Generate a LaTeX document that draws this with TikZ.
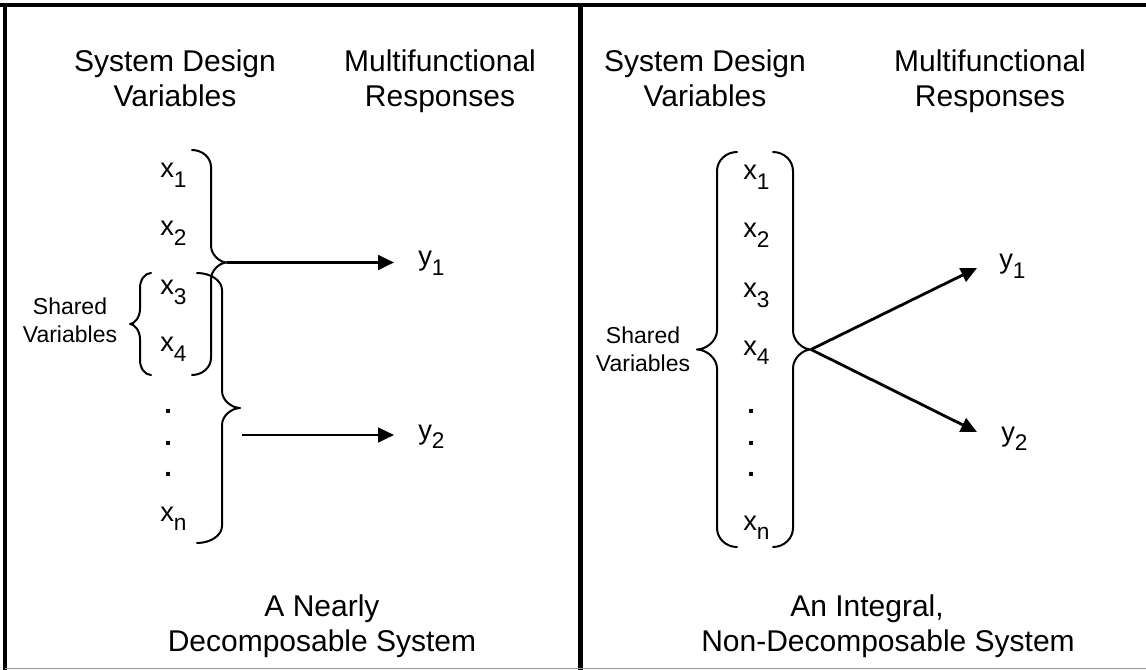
\documentclass[tikz,border=0pt]{standalone}
\usepackage{fontspec}
\setmainfont{Liberation Sans}
\usetikzlibrary{arrows.meta,calc}

% variable with a lowered index
\newcommand\vsub[2]{#1\raisebox{-7pt}{\fontsize{17}{17}\selectfont #2}}

% curly brace: #1 end x, #2 stem x, #3 tip x, #4 top y, #5 bottom y, #6 hook size, #7 tip name
\newcommand\curlybrace[7]{%
  \pgfmathsetmacro\bmid{(#4+#5)/2}%
  \pgfmathsetmacro\hka{#1+0.55*(#2-#1)}%
  \pgfmathsetmacro\hkb{#2+0.55*(#3-#2)}%
  \draw[bracestroke] (#1,#4)
    .. controls (\hka,#4) and (#2,{#4+0.45*#6}) .. (#2,{#4+#6})
    -- (#2,{\bmid-#6})
    .. controls (#2,{\bmid-0.45*#6}) and (\hkb,\bmid) .. (#3,\bmid)
    .. controls (\hkb,\bmid) and (#2,{\bmid+0.45*#6}) .. (#2,{\bmid+#6})
    -- (#2,{#5-#6})
    .. controls (#2,{#5-0.45*#6}) and (\hka,#5) .. (#1,#5);
  \coordinate (#7) at (#3,\bmid);
}

\begin{document}
\begin{tikzpicture}[x=0.75pt,y=-0.75pt,
  txt/.style={font=\fontsize{22.5}{26.25}\selectfont, inner sep=0pt, align=center},
  smalltxt/.style={font=\fontsize{17.25}{21}\selectfont, inner sep=0pt, align=center},
  var/.style={font=\fontsize{20.5}{24}\selectfont, inner sep=0pt, anchor=base west},
  bracestroke/.style={line width=1.5pt, line join=round, line cap=round},
  arr/.style={line width=2.1pt, -{Triangle[length=12pt,width=11pt]}},
  panelrule/.style={line width=3pt}]

\useasboundingbox (0,0) rectangle (1146,670);

% panel frame
\draw[panelrule] (0,5) -- (1146,5);
\draw[panelrule] (5,5) -- (5,670);
\draw[line width=3.4pt] (580.5,5) -- (580.5,670);
\draw[line width=1pt, black!40] (5,668.5) -- (1146,668.5);

% ---------- left panel ----------
\node[txt, anchor=base] (sdvL) at (175,107) {System Design\\Variables};
\node[txt, anchor=base] (mfrL) at (440,107) {Multifunctional\\Responses};

\node[var] (x1L) at (160,178) {\vsub{x}{1}};
\node[var] (x2L) at (160,236) {\vsub{x}{2}};
\node[var] (x3L) at (160,295) {\vsub{x}{3}};
\node[var] (x4L) at (160,352) {\vsub{x}{4}};
\node[var] (d1L) at (164,413) {\textbf{.}};
\node[var] (d2L) at (164,445) {\textbf{.}};
\node[var] (d3L) at (164,476) {\textbf{.}};
\node[var] (xnL) at (160,521) {\vsub{x}{n}};

\node[smalltxt] (shL) at (70,320) {Shared\\Variables};

\curlybrace{192}{211}{227}{150}{375}{17}{tipA}
\curlybrace{197}{222}{240}{273}{543}{17}{tipB}
\curlybrace{151}{140}{130}{273}{375}{15}{tipS}

\node[var] (y1L) at (418,266) {\vsub{y}{1}};
\node[var] (y2L) at (418,439) {\vsub{y}{2}};
\coordinate (a2s) at (242,435);

\draw[arr, shorten >=18pt] (tipA) -- (tipA -| y1L.west);
\draw[arr, shorten >=18pt] (a2s) -- (a2s -| y2L.west);

\node[txt, anchor=base] (ttlL1) at (322,616) {A Nearly};
\node[txt, anchor=base] (ttlL2) at (322,651) {Decomposable System};

% ---------- right panel ----------
\node[txt, anchor=base] (sdvR) at (705,107) {System Design\\Variables};
\node[txt, anchor=base] (mfrR) at (990,107) {Multifunctional\\Responses};

\node[var] (x1R) at (743,180) {\vsub{x}{1}};
\node[var] (x2R) at (743,238) {\vsub{x}{2}};
\node[var] (x3R) at (743,298) {\vsub{x}{3}};
\node[var] (x4R) at (743,355) {\vsub{x}{4}};
\node[var] (d1R) at (747,413) {\textbf{.}};
\node[var] (d2R) at (747,445) {\textbf{.}};
\node[var] (d3R) at (747,476) {\textbf{.}};
\node[var] (xnR) at (743,530) {\vsub{x}{n}};

\node[smalltxt] (shR) at (643,349) {Shared\\Variables};

\curlybrace{737}{717}{697}{152}{547}{19}{tipSR}
\curlybrace{773}{793}{811}{152}{547}{19}{tipR}

\node[var] (y1R) at (999,269) {\vsub{y}{1}};
\node[var] (y2R) at (1001,441) {\vsub{y}{2}};

\draw[arr] (tipR) -- ($(y1R.base west)+(-22,-1)$);
\draw[arr] (tipR) -- ($(y2R.base west)+(-24,-9)$);

\node[txt, anchor=base] (ttlR1) at (867,616) {An Integral,};
\node[txt, anchor=base] (ttlR2) at (888,651) {Non-Decomposable System};

\end{tikzpicture}
\end{document}
